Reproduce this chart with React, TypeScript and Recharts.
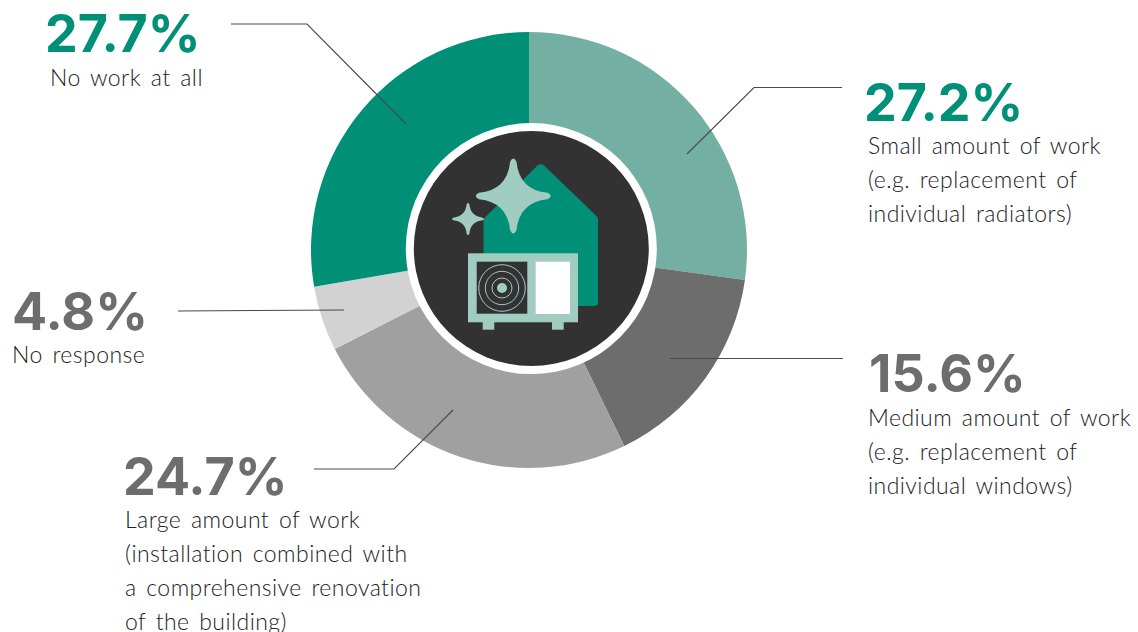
import React from "react";
import { PieChart, Pie, Cell } from "recharts";

const categories = ["Small amount of work", "Medium amount of work", "Large amount of work", "No response", "No work at all"];
const shares = [27.2, 15.6, 24.7, 4.8, 27.7];
const sliceColors = ["#74AFA3", "#6D6D6D", "#A0A0A0", "#D2D2D2", "#009078"];
const shareLabels = ["27.2%", "15.6%", "24.7%", "4.8%", "27.7%"];
const labelLines = [
  ["Small amount of work", "(e.g. replacement of", "individual radiators)"],
  ["Medium amount of work", "(e.g. replacement of", "individual windows)"],
  ["Large amount of work", "(installation combined with", "a comprehensive renovation", "of the building)"],
  ["No response"],
  ["No work at all"],
];
const numberColors = ["#009078", "#6D6D6D", "#6D6D6D", "#6D6D6D", "#009078"];
const numberPos = [[864, 121], [869, 392], [123, 495], [12, 330], [45, 52]];
const textPos = [[868, 154], [868, 426], [125, 528], [12, 363], [50, 86]];
const leaders = [
  "842,87.5 754,87.5 687,154",
  "843,358.5 670,358.5",
  "314,469 394,469 453,410",
  "178,311 344,310",
  "231,24 307,24 406,124",
];

const chartData = categories.map((name, i) => ({ name, value: shares[i] }));
const CX = 529;
const CY = 250;
const HUB_X = 531.3;
const HUB_Y = 248.6;

function star(cx: number, cy: number, r: number) {
  const t = r * 0.085;
  const k = r * 0.16;
  return `M${cx - t},${cy - r + t}
    Q${cx},${cy - r - t} ${cx + t},${cy - r + t}
    Q${cx + k},${cy - k} ${cx + r - t},${cy - t}
    Q${cx + r + t},${cy} ${cx + r - t},${cy + t}
    Q${cx + k},${cy + k} ${cx + t},${cy + r - t}
    Q${cx},${cy + r + t} ${cx - t},${cy + r - t}
    Q${cx - k},${cy + k} ${cx - r + t},${cy + t}
    Q${cx - r - t},${cy} ${cx - r + t},${cy - t}
    Q${cx - k},${cy - k} ${cx - t},${cy - r + t}Z`;
}

function Icon() {
  const pale = "#A0CCC1";
  const dark = "#323232";
  return (
    <g>
      <path d="M483.5,219 L537.5,165.5 Q540.7,162.5 544,165.5 L596.5,216 Q598,217.5 598,220 L598,302 Q598,306 594,306 L500,306 L483.5,306 Z" fill="#009078" />
      <path d={star(513.3, 196, 37.5)} fill={pale} />
      <path d={star(468, 219, 16)} fill={pale} />
      <rect x={468} y={253.3} width={110} height={69} fill={pale} />
      <rect x={482.7} y={322} width={11.6} height={7.7} fill={pale} />
      <rect x={552} y={322} width={11.7} height={7.7} fill={pale} />
      <rect x={476.7} y={261.7} width={50.6} height={52} fill={dark} />
      <rect x={535.7} y={261.7} width={34.3} height={52.3} fill="#FFFFFF" />
      {[23.3, 16.7, 10].map((r) => (
        <circle key={r} cx={502} cy={288} r={r} fill="none" stroke={pale} strokeWidth={1} />
      ))}
      <circle cx={502} cy={288} r={5} fill={pale} />
    </g>
  );
}

const layer: React.CSSProperties = { position: "absolute", left: 0, top: 0 };

export default function App() {
  return (
    <div style={{ ...layer, width: 1138, height: 632, overflow: "hidden", background: "#fff" }}>
      <div style={layer}>
        <PieChart width={1138} height={632} margin={{ top: 0, right: 0, bottom: 0, left: 0 }}>
          <Pie
            data={chartData}
            dataKey="value"
            nameKey="name"
            cx={CX}
            cy={CY}
            outerRadius={218}
            innerRadius={110}
            startAngle={90}
            endAngle={-270}
            stroke="none"
            isAnimationActive={false}
          >
            {chartData.map((d, i) => (
              <Cell key={d.name} fill={sliceColors[i]} />
            ))}
          </Pie>
        </PieChart>
      </div>
      <svg width={1138} height={632} style={layer}>
        <circle cx={HUB_X} cy={HUB_Y} r={125.5} fill="#FFFFFF" />
        <circle cx={HUB_X} cy={HUB_Y} r={117.5} fill="#323232" />
        <Icon />
        {leaders.map((p) => (
          <polyline key={p} points={p} fill="none" stroke="#4A4A4A" strokeWidth={1.1} />
        ))}
        {shareLabels.map((s, i) => (
          <text
            key={s}
            x={numberPos[i][0]}
            y={numberPos[i][1]}
            fill={numberColors[i]}
            style={{ fontFamily: "Inter, sans-serif", fontWeight: 700, fontSize: 52 }}
          >
            {s}
          </text>
        ))}
        {labelLines.map((lines, i) =>
          lines.map((line, j) => (
            <text
              key={line}
              x={textPos[i][0]}
              y={textPos[i][1] + j * 34}
              fill="#222222"
              style={{ fontFamily: "Lato, sans-serif", fontWeight: 300, fontSize: 23, letterSpacing: 0.45, wordSpacing: 3 }}
            >
              {line}
            </text>
          ))
        )}
      </svg>
    </div>
  );
}
